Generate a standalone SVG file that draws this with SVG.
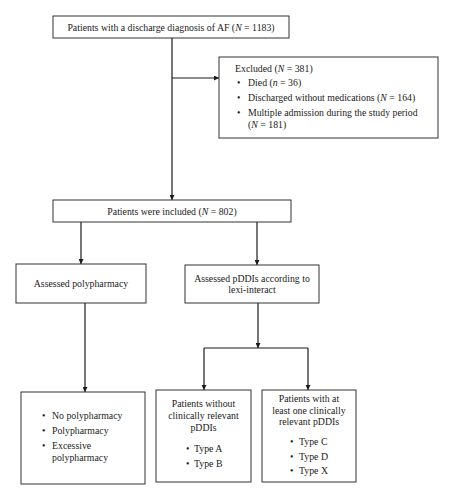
<svg xmlns="http://www.w3.org/2000/svg" width="454" height="500" viewBox="0 0 454 500">
<defs>
<marker id="ah" viewBox="0 0 10 10" refX="10" refY="5" markerWidth="5" markerHeight="5" orient="auto" markerUnits="userSpaceOnUse">
<path d="M0,0 L10,5 L0,10 z" fill="#1a1a1a"/>
</marker>
</defs>
<style>
.box{fill:#fff;stroke:#333;stroke-width:1}
text{font-family:"Liberation Serif","Times New Roman",serif;font-size:9.8px;fill:#1a1a1a}
.c{text-anchor:middle}
.ln{stroke:#1a1a1a;stroke-width:1.2;fill:none}
.a{marker-end:url(#ah)}
</style>
<rect width="454" height="500" fill="#fff"/>
<g id="connectors">
<line class="ln a" x1="172" y1="38" x2="172" y2="200"/>
<line class="ln a" x1="172" y1="78" x2="219" y2="78"/>
<line class="ln a" x1="81" y1="222" x2="81" y2="264"/>
<line class="ln a" x1="257" y1="222" x2="257" y2="265"/>
<line class="ln a" x1="85" y1="303" x2="85" y2="392"/>
<line class="ln a" x1="258" y1="303" x2="258" y2="348"/>
<line class="ln" x1="204" y1="348" x2="308" y2="348"/>
<line class="ln a" x1="204" y1="348" x2="204" y2="390"/>
<line class="ln a" x1="308" y1="348" x2="308" y2="390"/>
</g>
<g id="n_total">
<rect class="box" x="53" y="16" width="236" height="22"/>
<text class="c" x="171" y="30.5">Patients with a discharge diagnosis of AF (<tspan font-style="italic">N</tspan> = 1183)</text>
</g>
<g id="n_excluded">
<rect class="box" x="219" y="57" width="219" height="81"/>
<text x="235" y="72">Excluded (<tspan font-style="italic">N</tspan> = 381)</text>
<text x="237" y="86">•</text><text x="248" y="86">Died (<tspan font-style="italic">n</tspan> = 36)</text>
<text x="237" y="101">•</text><text x="248" y="101">Discharged without medications (<tspan font-style="italic">N</tspan> = 164)</text>
<text x="237" y="116">•</text><text x="248" y="116">Multiple admission during the study period</text>
<text x="248" y="128">(<tspan font-style="italic">N</tspan> = 181)</text>
</g>
<g id="n_included">
<rect class="box" x="53" y="200" width="238" height="22"/>
<text class="c" x="172" y="214.5">Patients were included (<tspan font-style="italic">N</tspan> = 802)</text>
</g>
<g id="n_poly">
<rect class="box" x="16" y="264" width="130" height="39"/>
<text class="c" x="81" y="286.5">Assessed polypharmacy</text>
</g>
<g id="n_pddi">
<rect class="box" x="185" y="265" width="134" height="38"/>
<text class="c" x="252" y="281.5">Assessed pDDIs according to</text>
<text class="c" x="252" y="293">lexi-interact</text>
</g>
<g id="n_polylist">
<rect class="box" x="21" y="392" width="124" height="92"/>
<text x="42" y="419">•</text><text x="52" y="419">No polypharmacy</text>
<text x="42" y="434">•</text><text x="52" y="434">Polypharmacy</text>
<text x="42" y="449">•</text><text x="52" y="449">Excessive</text>
<text x="52" y="461">polypharmacy</text>
</g>
<g id="n_without">
<rect class="box" x="156" y="390" width="95" height="92"/>
<text class="c" x="203.5" y="407">Patients without</text>
<text class="c" x="203.5" y="419">clinically relevant</text>
<text class="c" x="203.5" y="431">pDDIs</text>
<text x="186" y="452">•</text><text x="194" y="452">Type A</text>
<text x="186" y="467">•</text><text x="194" y="467">Type B</text>
</g>
<g id="n_with">
<rect class="box" x="262" y="390" width="94" height="92"/>
<text class="c" x="309" y="402">Patients with at</text>
<text class="c" x="309" y="414">least one clinically</text>
<text class="c" x="309" y="425">relevant pDDIs</text>
<text x="290" y="445">•</text><text x="299" y="445">Type C</text>
<text x="290" y="460">•</text><text x="299" y="460">Type D</text>
<text x="290" y="474">•</text><text x="299" y="474">Type X</text>
</g>
</svg>
